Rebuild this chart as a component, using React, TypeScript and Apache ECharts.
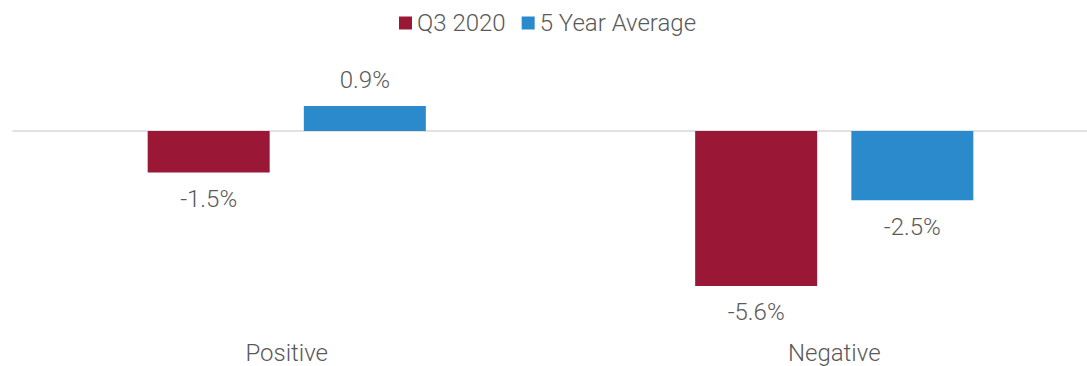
import React, { useEffect, useRef } from "react";
import * as echarts from "echarts";

const categories = ["Positive", "Negative"];
const seriesNames = ["Q3 2020", "5 Year Average"];
const q3Values = [-1.5, -5.6];
const avgValues = [0.9, -2.5];
const colors = ["#9B1736", "#2A8ACC"];

const FONT = "Roboto";
const TEXT = "#595959";
const FS = 24;

function withLabels(values: number[]) {
  return values.map((v) => ({
    value: v,
    label: { position: v >= 0 ? "top" : "bottom" },
  }));
}

export default function App() {
  const ref = useRef<HTMLDivElement>(null);
  useEffect(() => {
    if (!ref.current) return;
    const chart = echarts.init(ref.current, undefined, { renderer: "svg" });
    const labelCommon = {
      show: true,
      distance: 14.5,
      formatter: (p: any) => `${Number(p.value).toFixed(1)}%`,
      color: TEXT,
      fontSize: FS,
      fontFamily: FONT,
      fontWeight: 300,
    };
    chart.setOption({
      animation: false,
      backgroundColor: "#ffffff",
      textStyle: { fontFamily: FONT },
      legend: {
        top: 6,
        left: 394,
        itemWidth: 13,
        itemHeight: 13,
        itemGap: 16,
        icon: "rect",
        textStyle: { color: TEXT, fontSize: FS, fontFamily: FONT, fontWeight: 300 },
        data: seriesNames,
      },
      grid: {
        left: 13,
        right: 0,
        top: 48,
        height: 249,
        containLabel: false,
        outerBoundsMode: "none",
      },
      xAxis: {
        type: "category",
        data: categories,
        axisLine: { show: true, onZero: true, lineStyle: { color: "#D9D9D9", width: 1.5 } },
        axisTick: { show: false },
        axisLabel: {
          margin: 44,
          color: TEXT,
          fontSize: FS,
          fontFamily: FONT,
          fontWeight: 300,
        },
      },
      yAxis: {
        type: "value",
        min: -6,
        max: 3,
        show: false,
        splitLine: { show: false },
      },
      series: [
        {
          name: seriesNames[0],
          type: "bar",
          data: withLabels(q3Values),
          barWidth: 122,
          barGap: "28%",
          itemStyle: { color: colors[0] },
          label: labelCommon,
        },
        {
          name: seriesNames[1],
          type: "bar",
          data: withLabels(avgValues),
          barWidth: 122,
          barGap: "28%",
          itemStyle: { color: colors[1] },
          label: labelCommon,
        },
      ],
    });
    return () => chart.dispose();
  }, []);
  return (
    <div
      ref={ref}
      style={{ position: "fixed", left: 0, top: 0, width: 1108, height: 366, background: "#fff" }}
    />
  );
}
